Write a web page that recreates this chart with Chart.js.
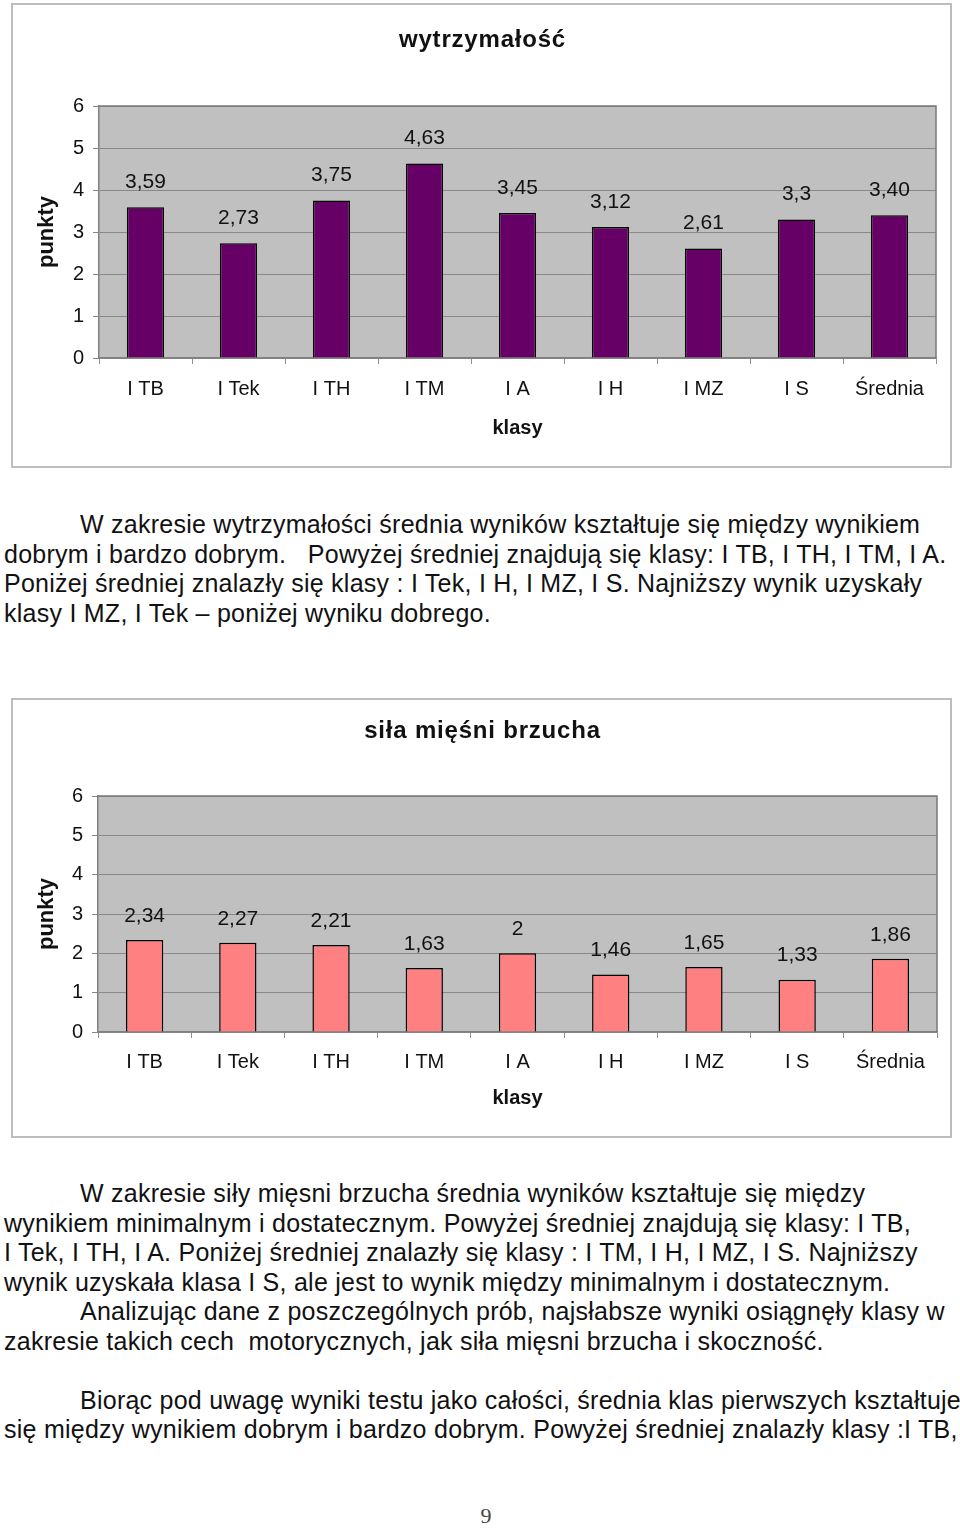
<!DOCTYPE html>
<html lang="pl">
<head>
<meta charset="utf-8">
<title>wytrzymałość / siła mięśni brzucha</title>
<script src="https://cdn.jsdelivr.net/npm/chart.js@4/dist/chart.umd.min.js"></script>
<style>
  body { margin: 0; background: #fff; width: 960px; height: 1528px; position: relative; overflow: hidden;
         font-family: "Liberation Sans", Arial, sans-serif; color: #111; }
  .box { position: absolute; left: 11px; width: 941px; }
  .box .ramka { position: absolute; inset: 0; border: 2px solid #bdbdbd; box-sizing: border-box; }
  .box canvas { position: absolute; left: 0; top: 0; }
  .tekst { position: absolute; left: 4px; font-size: 25px; letter-spacing: 0.25px; line-height: 29.5px; white-space: nowrap; }
  .wciecie { padding-left: 76px; }
  .strona { position: absolute; left: 0; width: 972px; top: 1503px; text-align: center;
            font-family: "Liberation Serif", serif; font-size: 22px; color: #444; }
</style>
</head>
<body>

<div class="box" style="top:3px;height:465px">
  <div class="ramka"></div>
  <canvas id="wykres1" width="941" height="465"></canvas>
</div>

<div class="tekst" style="top:510px">
  <div class="wciecie">W zakresie wytrzymałości średnia wyników kształtuje się między wynikiem</div>
  <div>dobrym i bardzo dobrym.&nbsp;&nbsp; Powyżej średniej znajdują się klasy: I TB, I TH, I TM, I A.</div>
  <div>Poniżej średniej znalazły się klasy : I Tek, I H, I MZ, I S. Najniższy wynik uzyskały</div>
  <div>klasy I MZ, I Tek – poniżej wyniku dobrego.</div>
</div>

<div class="box" style="top:698px;height:440px">
  <div class="ramka"></div>
  <canvas id="wykres2" width="941" height="440"></canvas>
</div>

<div class="tekst" style="top:1179px">
  <div class="wciecie">W zakresie siły mięsni brzucha średnia wyników kształtuje się między</div>
  <div>wynikiem minimalnym i dostatecznym. Powyżej średniej znajdują się klasy: I TB,</div>
  <div>I Tek, I TH, I A. Poniżej średniej znalazły się klasy : I TM, I H, I MZ, I S. Najniższy</div>
  <div>wynik uzyskała klasa I S, ale jest to wynik między minimalnym i dostatecznym.</div>
  <div class="wciecie">Analizując dane z poszczególnych prób, najsłabsze wyniki osiągnęły klasy w</div>
  <div>zakresie takich cech&nbsp; motorycznych, jak siła mięsni brzucha i skoczność.</div>
  <div>&nbsp;</div>
  <div class="wciecie">Biorąc pod uwagę wyniki testu jako całości, średnia klas pierwszych kształtuje</div>
  <div>się między wynikiem dobrym i bardzo dobrym. Powyżej średniej znalazły klasy :I TB,</div>
</div>

<div class="strona">9</div>

<script>
// dane
const klasy = ['I TB', 'I Tek', 'I TH', 'I TM', 'I A', 'I H', 'I MZ', 'I S', 'Średnia'];
const wytrzymalosc = [3.59, 2.73, 3.75, 4.63, 3.45, 3.12, 2.61, 3.3, 3.40];
const wytrzymaloscEtykiety = ['3,59', '2,73', '3,75', '4,63', '3,45', '3,12', '2,61', '3,3', '3,40'];
const silaBrzucha = [2.34, 2.27, 2.21, 1.63, 2, 1.46, 1.65, 1.33, 1.86];
const silaBrzuchaEtykiety = ['2,34', '2,27', '2,21', '1,63', '2', '1,46', '1,65', '1,33', '1,86'];
const osY = { min: 0, max: 6, krok: 1 };

const czcionka = '"Liberation Sans", Arial, sans-serif';

// szare tło obszaru wykresu + ramka
const tloWykresu = {
    id: 'tloWykresu',
    beforeDraw(chart) {
        const { ctx, chartArea: a } = chart;
        ctx.save();
        ctx.fillStyle = '#c0c0c0';
        ctx.fillRect(a.left, a.top, a.right - a.left, a.bottom - a.top);
        ctx.restore();
    },
    afterDraw(chart) {
        const { ctx, chartArea: a } = chart;
        ctx.save();
        ctx.strokeStyle = '#7a7a7a';
        ctx.lineWidth = 1.5;
        ctx.beginPath();
        ctx.moveTo(a.left, a.top);
        ctx.lineTo(a.right, a.top);
        ctx.lineTo(a.right, a.bottom);
        ctx.stroke();
        ctx.restore();
    }
};

// tytuł na środku całego pola
const tytulWykresu = {
    id: 'tytulWykresu',
    afterDraw(chart, args, opts) {
        const { ctx } = chart;
        ctx.save();
        ctx.font = 'bold 24px ' + czcionka;
        ctx.letterSpacing = '0.8px';
        ctx.fillStyle = '#111';
        ctx.textAlign = 'center';
        ctx.textBaseline = 'middle';
        ctx.fillText(opts.tekst, chart.width / 2 + 1, opts.y);
        ctx.restore();
    }
};

// wartości nad słupkami
const etykietySlupkow = {
    id: 'etykietySlupkow',
    afterDatasetsDraw(chart, args, opts) {
        const { ctx } = chart;
        const meta = chart.getDatasetMeta(0);
        ctx.save();
        ctx.font = '21px ' + czcionka;
        ctx.fillStyle = '#111';
        ctx.textAlign = 'center';
        ctx.textBaseline = 'middle';
        meta.data.forEach((bar, i) => {
            ctx.fillText(opts.teksty[i], bar.x, bar.y - opts.odstep);
        });
        ctx.restore();
    }
};

function zrobWykres(id, tytul, dane, etykiety, kolor, u) {
    return new Chart(document.getElementById(id), {
        type: 'bar',
        data: {
            labels: klasy,
            datasets: [{
                data: dane,
                backgroundColor: kolor,
                borderColor: '#000',
                borderWidth: 1.5,
                barPercentage: 0.8,
                categoryPercentage: 0.5
            }]
        },
        options: {
            responsive: false,
            animation: false,
            layout: { padding: { left: 0, right: u.prawo, top: u.gora, bottom: 0 } },
            plugins: {
                legend: { display: false },
                tooltip: { enabled: false },
                title: { display: false },
                tytulWykresu: { tekst: tytul, y: u.tytulY },
                etykietySlupkow: { teksty: etykiety, odstep: u.odstep }
            },
            scales: {
                x: {
                    grid: { drawOnChartArea: false, drawTicks: true, tickLength: 6, color: '#909090' },
                    border: { color: '#808080', width: 1.5 },
                    ticks: { color: '#111', padding: u.xPad, font: { family: czcionka, size: 20 } },
                    title: {
                        display: true, text: 'klasy', color: '#111',
                        font: { family: czcionka, size: 20, weight: 'bold' },
                        padding: { top: 0, bottom: u.klasyDol }
                    },
                    afterFit(s) { s.height = u.xWys; }
                },
                y: {
                    min: osY.min, max: osY.max,
                    grid: { color: '#888', lineWidth: 1, tickLength: 6 },
                    border: { color: '#808080', width: 1.5 },
                    ticks: { stepSize: osY.krok, color: '#111', padding: 9, font: { family: czcionka, size: 20 } },
                    title: {
                        display: true, text: 'punkty', color: '#111',
                        font: { family: czcionka, size: 22, weight: 'bold' },
                        padding: { top: 23, bottom: 0 }
                    },
                    afterFit(s) { s.width = u.yWys; }
                }
            }
        },
        plugins: [tloWykresu, tytulWykresu, etykietySlupkow]
    });
}

zrobWykres('wykres1', 'wytrzymałość', wytrzymalosc, wytrzymaloscEtykiety, '#660066',
    { prawo: 16, gora: 103, tytulY: 37, xWys: 110, xPad: 13, klasyDol: 28, yWys: 88, odstep: 25 });

zrobWykres('wykres2', 'siła mięśni brzucha', silaBrzucha, silaBrzuchaEtykiety, '#ff8080',
    { prawo: 15, gora: 98, tytulY: 33, xWys: 106, xPad: 12, klasyDol: 28, yWys: 87, odstep: 24 });
</script>
</body>
</html>
